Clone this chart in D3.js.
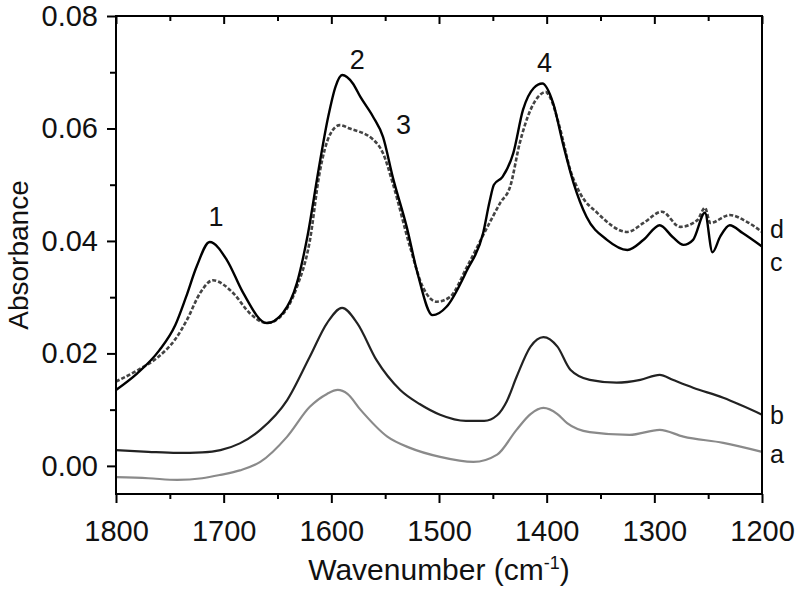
<!DOCTYPE html>
<html>
<head>
<meta charset="utf-8">
<script src="https://cdn.jsdelivr.net/npm/d3@7"></script>
<style>
  body { margin: 0; background: #fff; }
  svg text { font-family: Arial, "Liberation Sans", sans-serif; fill: #111; }
</style>
</head>
<body>
<div id="chart"></div>
<script>
// spectra: [wavenumber, absorbance]
const curveA = [[1800,-0.0020],[1770,-0.0022],[1743,-0.0025],[1720,-0.0022],[1703,-0.0016],[1685,-0.0008],[1666,0.0007],[1641,0.0052],[1620,0.0105],[1604,0.0128],[1594,0.0135],[1585,0.0128],[1573,0.0100],[1548,0.0052],[1527,0.0032],[1499,0.0016],[1468,0.0007],[1446,0.0020],[1428,0.0064],[1415,0.0092],[1403,0.0103],[1390,0.0092],[1381,0.0076],[1360,0.0060],[1323,0.0055],[1295,0.0064],[1273,0.0052],[1236,0.0041],[1200,0.0025]];

const curveB = [[1800,0.0028],[1770,0.0025],[1743,0.0023],[1720,0.0024],[1703,0.0028],[1685,0.0040],[1666,0.0064],[1641,0.0117],[1620,0.0194],[1604,0.0254],[1590,0.0281],[1576,0.0254],[1558,0.0188],[1536,0.0135],[1518,0.0110],[1499,0.0091],[1475,0.0080],[1458,0.0080],[1446,0.0090],[1437,0.0115],[1428,0.0158],[1415,0.0212],[1403,0.0229],[1390,0.0212],[1378,0.0171],[1360,0.0153],[1335,0.0148],[1313,0.0153],[1295,0.0162],[1283,0.0153],[1264,0.0139],[1236,0.0121],[1200,0.0091]];

const curveC = [[1800,0.0135],[1780,0.0165],[1760,0.0205],[1745,0.0250],[1735,0.0300],[1725,0.0355],[1713,0.0398],[1697,0.0366],[1682,0.0308],[1660,0.0254],[1645,0.0272],[1632,0.0325],[1622,0.0410],[1612,0.0525],[1603,0.0620],[1596,0.0675],[1590,0.0695],[1580,0.0680],[1573,0.0656],[1561,0.0620],[1552,0.0585],[1543,0.0514],[1530,0.0425],[1520,0.0343],[1506,0.0268],[1493,0.0283],[1474,0.0348],[1459,0.0414],[1453,0.0470],[1449,0.0500],[1441,0.0514],[1431,0.0556],[1422,0.0633],[1412,0.0672],[1404,0.0680],[1394,0.0645],[1385,0.0574],[1375,0.0503],[1363,0.0443],[1344,0.0402],[1325,0.0384],[1310,0.0402],[1295,0.0428],[1283,0.0407],[1273,0.0393],[1264,0.0402],[1253,0.0450],[1246,0.0380],[1239,0.0407],[1230,0.0428],[1218,0.0414],[1200,0.0390]];

const curveD = [[1800,0.0150],[1780,0.0170],[1760,0.0195],[1745,0.0225],[1734,0.0260],[1722,0.0307],[1710,0.0330],[1691,0.0307],[1676,0.0272],[1660,0.0254],[1645,0.0270],[1632,0.0318],[1620,0.0400],[1611,0.0520],[1601,0.0590],[1592,0.0606],[1583,0.0600],[1561,0.0580],[1552,0.0556],[1543,0.0503],[1527,0.0390],[1515,0.0318],[1502,0.0292],[1490,0.0300],[1474,0.0354],[1455,0.0425],[1443,0.0468],[1434,0.0496],[1425,0.0574],[1415,0.0633],[1406,0.0660],[1401,0.0665],[1397,0.0656],[1388,0.0603],[1378,0.0526],[1369,0.0485],[1353,0.0450],[1325,0.0416],[1310,0.0432],[1293,0.0452],[1276,0.0425],[1260,0.0437],[1253,0.0459],[1248,0.0432],[1230,0.0446],[1214,0.0434],[1200,0.0416]];

const xTicks = [1800, 1700, 1600, 1500, 1400, 1300, 1200];
const xMinor = [1750, 1650, 1550, 1450, 1350, 1250];
const yTicks = [0, 0.02, 0.04, 0.06, 0.08];
const yMinor = [0.01, 0.03, 0.05, 0.07];

// band labels and series labels
const peakLabels = [{t: "1", w: 1707, v: 0.0426}, {t: "2", w: 1576, v: 0.0706}, {t: "3", w: 1533, v: 0.0590}, {t: "4", w: 1402, v: 0.0700}];
const seriesLabels = [{t: "d", v: 0.0421}, {t: "c", v: 0.0362}, {t: "b", v: 0.0090}, {t: "a", v: 0.0020}];

const width = 800, height = 595;
const margin = {top: 16, right: 38, bottom: 101, left: 116};
const innerW = width - margin.left - margin.right;
const innerH = height - margin.top - margin.bottom;

const svg = d3.select("#chart").append("svg")
    .attr("width", width)
    .attr("height", height);

const g = svg.append("g")
    .attr("transform", `translate(${margin.left},${margin.top})`);

const x = d3.scaleLinear().domain([1800, 1200]).range([0, innerW]);
const y = d3.scaleLinear().domain([-0.005, 0.08]).range([innerH, 0]);

const line = d3.line()
    .x(d => x(d[0]))
    .y(d => y(d[1]))
    .curve(d3.curveMonotoneX);

g.append("path").datum(curveA)
    .attr("d", line).attr("fill", "none")
    .attr("stroke", "#8a8a8a").attr("stroke-width", 2.2);
g.append("path").datum(curveB)
    .attr("d", line).attr("fill", "none")
    .attr("stroke", "#222").attr("stroke-width", 2.2);
g.append("path").datum(curveD)
    .attr("d", line).attr("fill", "none")
    .attr("stroke", "#444").attr("stroke-width", 2.6)
    .attr("stroke-dasharray", "4,2");
g.append("path").datum(curveC)
    .attr("d", line).attr("fill", "none")
    .attr("stroke", "#000").attr("stroke-width", 2.4);

// axes
const fontSize = 29;

g.append("g")
    .attr("transform", `translate(0,${innerH})`)
    .call(d3.axisBottom(x).tickValues(xTicks).tickSize(9).tickPadding(17).tickFormat(d3.format("d")));
g.append("g")
    .attr("transform", `translate(0,${innerH})`)
    .call(d3.axisBottom(x).tickValues(xMinor).tickSize(5).tickFormat(""));

g.append("g")
    .call(d3.axisTop(x).tickValues(xTicks).tickSize(-8).tickFormat(""));
g.append("g")
    .call(d3.axisTop(x).tickValues(xMinor).tickSize(-5).tickFormat(""));

g.append("g")
    .call(d3.axisLeft(y).tickValues(yTicks).tickSize(9).tickPadding(9).tickFormat(d3.format(".2f")));
g.append("g")
    .call(d3.axisLeft(y).tickValues(yMinor).tickSize(6).tickFormat(""));

g.selectAll(".domain").remove();
g.selectAll(".tick line").attr("stroke", "#000").attr("stroke-width", 2);
g.selectAll(".tick text").style("font-size", fontSize + "px").attr("fill", "#111");

// frame
g.append("rect")
    .attr("width", innerW).attr("height", innerH)
    .attr("fill", "none").attr("stroke", "#000").attr("stroke-width", 2);

// peak labels
g.selectAll(".peak")
    .data(peakLabels)
    .enter().append("text")
    .attr("class", "peak")
    .attr("x", d => x(d.w))
    .attr("y", d => y(d.v))
    .attr("text-anchor", "middle")
    .style("font-size", "27px")
    .text(d => d.t);

// series labels to the right of the frame
g.selectAll(".series")
    .data(seriesLabels)
    .enter().append("text")
    .attr("class", "series")
    .attr("x", innerW + 8)
    .attr("y", d => y(d.v))
    .attr("dy", "0.35em")
    .style("font-size", "25px")
    .text(d => d.t);

// axis titles
const xTitle = svg.append("text")
    .attr("x", margin.left + innerW / 2)
    .attr("y", 580)
    .attr("text-anchor", "middle")
    .style("font-size", "30px");
xTitle.append("tspan").text("Wavenumber (cm");
xTitle.append("tspan").attr("dy", -11).style("font-size", "18px").text("-1");
xTitle.append("tspan").attr("dy", 11).text(")");

svg.append("text")
    .attr("transform", `translate(28,${margin.top + innerH / 2}) rotate(-90)`)
    .attr("text-anchor", "middle")
    .style("font-size", "28px")
    .text("Absorbance");
</script>
</body>
</html>
